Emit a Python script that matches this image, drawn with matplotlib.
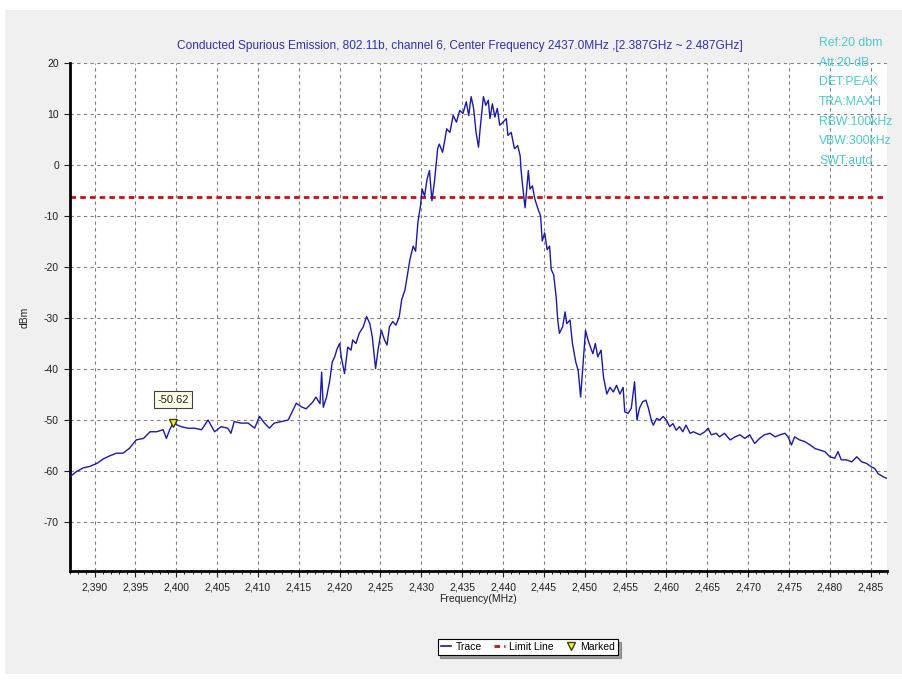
import matplotlib
matplotlib.use("Agg")
import matplotlib.pyplot as plt
from matplotlib.ticker import MultipleLocator, FuncFormatter
from matplotlib.lines import Line2D
from matplotlib.patches import Rectangle

plt.rcParams['font.family'] = ['Liberation Sans', 'DejaVu Sans']

title = "Conducted Spurious Emission, 802.11b, channel 6, Center Frequency 2437.0MHz ,[2.387GHz ~ 2.487GHz]"
info_lines = ["Ref:20 dbm", "Att:20 dB", "DET:PEAK", "TRA:MAXH", "RBW:100kHz", "VBW:300kHz", "SWT:auto"]

freq_mhz = [
    2387.0, 2387.8, 2388.6, 2389.4, 2390.3, 2391.1, 2391.9, 2392.7, 2393.5, 2394.3,
    2395.1, 2396.0, 2396.8, 2397.6, 2398.4, 2398.8, 2399.2, 2399.6, 2400.6, 2401.4,
    2402.2, 2403.1, 2403.9, 2404.7, 2405.5, 2406.3, 2406.7, 2407.1, 2407.9, 2408.8,
    2409.6, 2410.2, 2410.8, 2411.4, 2412.0, 2412.9, 2413.7, 2414.1, 2414.7, 2415.3,
    2415.9, 2416.7, 2417.1, 2417.6, 2417.8, 2418.0, 2418.4, 2418.8, 2419.1, 2419.4,
    2419.7, 2420.0, 2420.2, 2420.6, 2421.0, 2421.4, 2421.6, 2422.0, 2422.4, 2422.9,
    2423.3, 2423.7, 2424.0, 2424.4, 2424.7, 2425.1, 2425.5, 2425.8, 2426.1, 2426.5,
    2426.9, 2427.3, 2427.6, 2428.0, 2428.2, 2428.6, 2429.0, 2429.3, 2429.6, 2429.9,
    2430.1, 2430.4, 2430.7, 2431.0, 2431.3, 2431.6, 2432.0, 2432.2, 2432.6, 2432.9,
    2433.1, 2433.5, 2433.9, 2434.3, 2434.7, 2435.1, 2435.5, 2435.8, 2436.1, 2436.4,
    2436.7, 2437.0, 2437.2, 2437.6, 2437.9, 2438.2, 2438.4, 2438.7, 2439.0, 2439.3,
    2439.6, 2440.0, 2440.4, 2440.6, 2441.0, 2441.4, 2441.8, 2442.1, 2442.2, 2442.4,
    2442.7, 2442.9, 2443.1, 2443.3, 2443.6, 2443.9, 2444.3, 2444.6, 2444.8, 2445.1,
    2445.4, 2445.7, 2445.9, 2446.2, 2446.5, 2446.7, 2446.9, 2447.3, 2447.6, 2447.8,
    2448.2, 2448.5, 2448.9, 2449.2, 2449.5, 2449.8, 2450.1, 2450.4, 2450.7, 2451.0,
    2451.3, 2451.6, 2452.0, 2452.3, 2452.7, 2453.1, 2453.5, 2453.9, 2454.3, 2454.7,
    2454.9, 2455.3, 2455.7, 2456.1, 2456.4, 2456.7, 2457.1, 2457.5, 2457.8, 2458.2,
    2458.4, 2458.8, 2459.2, 2459.6, 2460.0, 2460.4, 2460.8, 2461.2, 2461.6, 2462.0,
    2462.4, 2462.9, 2463.3, 2463.7, 2464.1, 2464.7, 2465.1, 2465.5, 2466.1, 2466.5,
    2467.1, 2467.8, 2468.4, 2469.0, 2469.6, 2470.2, 2470.8, 2471.4, 2472.0, 2472.7,
    2473.3, 2473.9, 2474.5, 2474.9, 2475.3, 2475.7, 2476.3, 2476.9, 2477.6, 2478.2,
    2478.8, 2479.4, 2480.0, 2480.6, 2481.0, 2481.4, 2482.0, 2482.7, 2483.3, 2483.9,
    2484.5, 2485.1, 2485.5, 2485.9, 2486.5, 2486.9,
]
level_dbm = [
    -61.1, -60.1, -59.4, -59.1, -58.5, -57.6, -57.0, -56.5, -56.5, -55.5,
    -53.9, -53.6, -52.3, -52.3, -51.9, -53.6, -51.9, -50.62, -51.3, -51.6,
    -51.6, -51.9, -50.0, -52.3, -51.3, -51.6, -52.6, -50.3, -50.6, -50.6,
    -51.6, -49.3, -50.6, -51.6, -50.6, -50.3, -50.0, -48.7, -46.7, -47.4,
    -47.8, -46.5, -45.5, -46.8, -40.6, -47.5, -45.5, -42.2, -38.6, -37.6,
    -36.0, -35.0, -37.6, -40.9, -35.7, -36.3, -34.3, -35.0, -33.0, -31.7,
    -29.7, -31.1, -33.7, -39.9, -36.3, -32.4, -34.3, -35.3, -31.7, -30.7,
    -31.4, -29.7, -26.4, -24.5, -22.5, -18.6, -15.9, -16.9, -11.0, -8.0,
    -4.7, -6.1, -2.8, -1.1, -7.0, -3.4, 3.2, 4.1, 2.5, 5.1,
    7.1, 6.4, 9.7, 8.4, 10.7, 10.1, 12.4, 9.7, 13.4, 11.1,
    6.4, 3.5, 7.1, 13.4, 11.7, 12.7, 9.1, 12.0, 9.4, 11.1,
    7.8, 8.4, 9.1, 5.8, 6.4, 3.2, 3.8, 1.8, -0.8, -4.1,
    -8.4, -4.7, -1.1, -4.7, -4.1, -6.7, -8.7, -10.0, -14.9, -13.3,
    -16.6, -15.9, -20.5, -21.5, -25.8, -30.4, -33.0, -31.7, -28.8, -31.1,
    -30.4, -35.0, -38.6, -40.3, -45.5, -39.0, -32.4, -34.3, -35.7, -37.0,
    -35.0, -37.6, -36.3, -41.6, -44.9, -43.6, -44.5, -43.2, -44.9, -43.6,
    -48.4, -48.7, -47.7, -42.5, -50.0, -47.7, -46.4, -46.1, -47.7, -50.3,
    -51.0, -49.7, -50.0, -49.3, -50.0, -51.3, -50.7, -52.0, -51.3, -52.3,
    -51.0, -52.6, -52.3, -52.6, -52.9, -52.3, -51.6, -52.9, -52.6, -53.3,
    -52.6, -53.9, -53.3, -52.9, -53.6, -52.9, -54.6, -53.6, -52.9, -52.6,
    -53.3, -52.9, -52.6, -53.3, -54.9, -53.3, -53.9, -54.2, -54.9, -55.6,
    -55.9, -56.2, -57.2, -57.5, -56.2, -57.8, -57.8, -58.2, -57.2, -58.2,
    -58.5, -59.2, -59.5, -60.5, -61.1, -61.4,
]
limit_dbm = -6.3
marker_freq = 2399.6
marker_level = -50.62
marker_label = "-50.62"

W, H = 902, 682
fig = plt.figure(figsize=(W / 100, H / 100), dpi=100)
fig.patch.set_facecolor('white')
fig.patches.append(Rectangle((5 / W, 8 / H), (W - 5) / W, (H - 8 - 10) / H,
                             transform=fig.transFigure, facecolor='#f0f0f0',
                             edgecolor='none', zorder=-10))

ax = fig.add_axes([70 / W, 1 - 571 / H, (887 - 70) / W, (571 - 63) / H])
ax.set_facecolor('white')
ax.set_xlim(2387, 2487)
ax.set_ylim(-79.6, 20)

ax.plot(freq_mhz, level_dbm, color='#1a1aa8', lw=1.0, zorder=3)
ax.axhline(limit_dbm, color='#c81010', lw=2.0, ls=(0, (2, 1.5)), zorder=2)
ax.plot([marker_freq], [marker_level], marker='v', color='#f0f040',
        markeredgecolor='#404000', markersize=6, zorder=4, clip_on=False)
ax.annotate(marker_label, xy=(marker_freq, marker_level), xytext=(0, 17),
            textcoords='offset points', ha='center', va='center', fontsize=8,
            color='#202020',
            bbox=dict(boxstyle='square,pad=0.3', fc='#ffffe8', ec='#404040', lw=0.8),
            zorder=5)

ax.xaxis.set_major_locator(MultipleLocator(5))
ax.xaxis.set_minor_locator(MultipleLocator(1))
ax.yaxis.set_major_locator(MultipleLocator(10))
ax.xaxis.set_major_formatter(FuncFormatter(lambda v, p: f"{int(round(v)):,}" if v < 2486 else ""))
ax.yaxis.set_major_formatter(FuncFormatter(lambda v, p: f"{int(round(v))}" if v > -75 else ""))
ax.grid(True, which='major', color='#808080', lw=0.8, ls=(0, (3, 3)))
for s in ['top', 'right']:
    ax.spines[s].set_visible(False)
for s in ['left', 'bottom']:
    ax.spines[s].set_linewidth(2.0)
    ax.spines[s].set_color('black')
ax.tick_params(axis='both', which='major', direction='out', length=4, width=0.8,
               labelsize=7.5, colors='#202020', pad=4)
ax.tick_params(axis='x', which='minor', direction='out', length=2, width=0.6)
ax.set_xlabel("Frequency(MHz)", fontsize=7.5, labelpad=1, color='#202020')
ax.set_ylabel("dBm", fontsize=7.5, labelpad=10, color='#202020')

fig.text(460 / W, 1 - 46 / H, title, ha='center', va='center', fontsize=8.6,
         color='#3030b0')
for i, t in enumerate(info_lines):
    fig.text(819 / W, 1 - (43 + i * 19.7) / H, t, ha='left', va='center',
             fontsize=8.8, color='#50c8c8')

handles = [Line2D([], [], color='#1a1aa8', lw=1.2),
           Line2D([], [], color='#c81010', lw=2, ls=(0, (2, 1.5))),
           Line2D([], [], color='#f0f040', marker='v', markeredgecolor='#404000',
                  ls='none', markersize=6)]
leg = fig.legend(handles, ["Trace", "Limit Line", "Marked"], loc='center',
                 bbox_to_anchor=(528 / W, 1 - 647 / H), ncol=3, fontsize=7.5,
                 frameon=True, fancybox=False, shadow=True, handlelength=1.0,
                 handletextpad=0.4, columnspacing=1.2, borderpad=0.3)
leg.get_frame().set_edgecolor('black')
leg.get_frame().set_linewidth(0.8)

fig.savefig('out.png', dpi=100, facecolor=fig.get_facecolor())
